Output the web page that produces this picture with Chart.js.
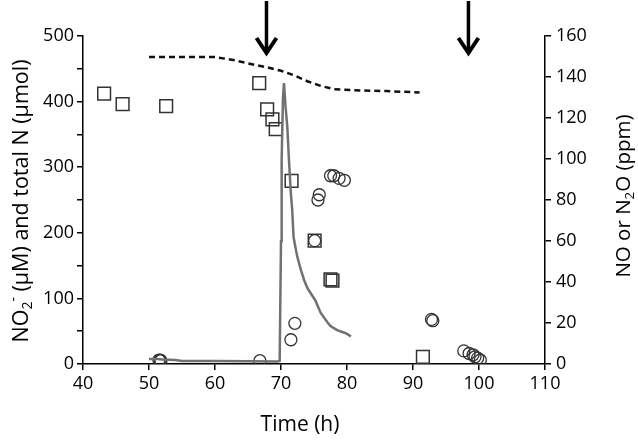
<!DOCTYPE html>
<html>
<head>
<meta charset="utf-8">
<script src="https://cdn.jsdelivr.net/npm/chart.js@4.4.1/dist/chart.umd.min.js"></script>
<style>
  html, body { margin: 0; padding: 0; background: #fff; }
</style>
</head>
<body>
<canvas id="chart" width="638" height="442"></canvas>
<script>
// Values
// squares (left axis)
const squareX = [43.2, 46.0, 52.6, 66.7, 67.9, 68.7, 69.2, 71.6, 75.1, 77.5, 77.8, 91.5];
const squareY = [412, 396, 393, 428, 388, 373, 358, 279, 188, 129, 127, 11];

// circles (left axis)
const circleX = [51.5, 51.7, 51.8, 66.8, 71.5, 72.1, 75.1, 75.6, 75.8, 77.5, 78.0, 78.8, 79.6, 92.8, 93.0, 97.7, 98.5, 99.1, 99.4, 99.8, 100.2];
const circleY = [6, 6, 5, 5, 37, 62, 188, 250, 258, 287, 287, 283, 280, 68, 66, 20, 16, 14, 11, 9, 6];

// total N, dashed line (left axis)
const totalNX = [50, 55, 60, 63, 66, 68, 70, 72, 74, 76, 78, 82, 86, 91];
const totalNY = [468, 468, 468, 463, 456, 452, 447, 440, 431, 424, 419, 417, 416, 414];

// gas trace, grey line (right axis, ppm)
const gasX = [50, 51, 52, 54, 55, 60, 65, 69.5, 69.8, 70.0, 70.1, 70.3, 70.45, 70.7, 70.95, 71.2, 71.5, 71.7, 71.9, 72.3, 72.5, 73, 73.5, 74, 74.6, 75.2, 76, 77, 77.5, 78.5, 79.8, 80.6];
const gasY = [2.5, 2.5, 2.2, 2, 1.5, 1.5, 1.3, 1.2, 1.5, 60, 100, 130, 137, 125, 116, 100, 83, 75, 62, 55, 52, 46, 41, 37, 34, 31, 25, 20.5, 18.5, 16.5, 15, 13.5];

// additions marked by arrows (h)
const arrowX = [67.8, 98.4];

const toPoints = (xs, ys) => xs.map((x, i) => ({ x, y: ys[i] }));

const FONT = '"Open Sans", sans-serif';

// draws a label made of pieces with sub/superscripts, centred on (cx, cy)
function drawRich(ctx, parts, cx, cy, rot, size) {
  ctx.save();
  ctx.translate(cx, cy);
  ctx.rotate(rot);
  let total = 0;
  parts.forEach(p => {
    ctx.font = (p.s ? size * 0.65 : size) + 'px ' + FONT;
    p.w = ctx.measureText(p.t).width;
    total += p.w;
  });
  let x = -total / 2;
  ctx.fillStyle = '#000';
  ctx.textBaseline = 'middle';
  ctx.textAlign = 'left';
  parts.forEach(p => {
    ctx.font = (p.s ? size * 0.65 : size) + 'px ' + FONT;
    let dy = 0;
    if (p.s === 'sub') dy = size * 0.3;
    if (p.s === 'sup') dy = -size * 0.35;
    ctx.fillText(p.t, x, dy);
    x += p.w;
  });
  ctx.restore();
}

const extras = {
  id: 'extras',
  afterDraw(chart) {
    const { ctx, chartArea, scales } = chart;
    // arrows above the plot
    ctx.save();
    ctx.strokeStyle = '#000';
    ctx.lineCap = 'butt';
    arrowX.forEach(v => {
      const px = scales.x.getPixelForValue(v);
      ctx.lineWidth = 3.5;
      ctx.beginPath();
      ctx.moveTo(px, 1);
      ctx.lineTo(px, chartArea.top + 16);
      ctx.stroke();
      ctx.lineWidth = 4;
      ctx.lineJoin = 'miter';
      ctx.beginPath();
      ctx.moveTo(px - 10, chartArea.top + 2);
      ctx.lineTo(px, chartArea.top + 17);
      ctx.lineTo(px + 10, chartArea.top + 2);
      ctx.stroke();
    });
    ctx.restore();

    // axis titles
    drawRich(ctx, [
      { t: 'NO' }, { t: '2', s: 'sub' }, { t: '-', s: 'sup' }, { t: ' (\u00b5M) and total N (\u00b5mol)' }
    ], 22, 201, -Math.PI / 2, 21.5);
    drawRich(ctx, [
      { t: 'NO or N' }, { t: '2', s: 'sub' }, { t: 'O (ppm)' }
    ], 624, 196, -Math.PI / 2, 20.5);
    drawRich(ctx, [{ t: 'Time (h)' }], (chartArea.left + chartArea.right) / 2 - 14, 425, 0, 21);
  }
};

const tickFont = { family: FONT, size: 18 };

new Chart(document.getElementById('chart').getContext('2d'), {
  type: 'scatter',
  data: {
    datasets: [
      {
        label: 'total N',
        data: toPoints(totalNX, totalNY),
        showLine: true,
        borderColor: '#111',
        borderWidth: 2.5,
        borderDash: [6, 4],
        pointRadius: 0,
        yAxisID: 'y'
      },
      {
        label: 'gas',
        data: toPoints(gasX, gasY),
        showLine: true,
        borderColor: '#717171',
        borderWidth: 2.5,
        pointRadius: 0,
        yAxisID: 'y2'
      },
      {
        label: 'squares',
        data: toPoints(squareX, squareY),
        pointStyle: 'rect',
        pointRadius: 9,
        borderColor: '#333',
        borderWidth: 1.5,
        backgroundColor: 'rgba(0,0,0,0)',
        yAxisID: 'y'
      },
      {
        label: 'circles',
        data: toPoints(circleX, circleY),
        pointStyle: 'circle',
        pointRadius: 6,
        borderColor: '#333',
        borderWidth: 1.3,
        backgroundColor: 'rgba(0,0,0,0)',
        yAxisID: 'y'
      }
    ]
  },
  options: {
    responsive: false,
    animation: false,
    layout: { padding: { top: 36, left: 0, right: 0, bottom: 0 } },
    plugins: { legend: { display: false }, tooltip: { enabled: false } },
    scales: {
      x: {
        type: 'linear',
        min: 40, max: 110,
        ticks: { stepSize: 10, color: '#000', font: tickFont, padding: 3, maxRotation: 0 },
        grid: { drawOnChartArea: false, tickLength: 6, color: '#000', lineWidth: 1.5 },
        border: { color: '#000', width: 1.5 },
        afterFit: s => { s.height = 78; }
      },
      y: {
        position: 'left',
        min: 0, max: 500,
        ticks: { stepSize: 50, color: '#000', font: tickFont, padding: 3, callback: v => v % 100 === 0 ? v : '' },
        grid: { drawOnChartArea: false, tickLength: 6, color: '#000', lineWidth: 1.5 },
        border: { color: '#000', width: 1.5 },
        afterFit: s => { s.width = 83; }
      },
      y2: {
        position: 'right',
        min: 0, max: 160,
        ticks: { stepSize: 20, color: '#000', font: tickFont, padding: 5 },
        grid: { drawOnChartArea: false, tickLength: 6, color: '#000', lineWidth: 1.5 },
        border: { color: '#000', width: 1.5 },
        afterFit: s => { s.width = 93; }
      }
    }
  },
  plugins: [extras]
});
</script>
</body>
</html>
